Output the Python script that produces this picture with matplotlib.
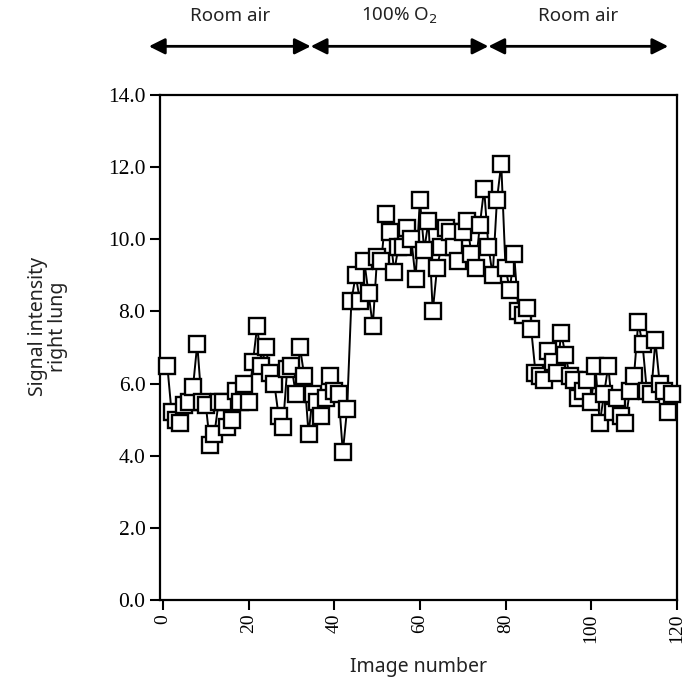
import numpy as np
import matplotlib
matplotlib.use('Agg')
import matplotlib.pyplot as plt

# signal intensity per image
signal = [6.5, 5.2, 5.0, 4.9, 5.4, 5.5, 5.9, 7.1, 5.5, 5.4,
          4.3, 4.6, 5.5, 5.5, 4.8, 5.0, 5.8, 5.5, 6.0, 5.5,
          6.6, 7.6, 6.5, 7.0, 6.3, 6.0, 5.1, 4.8, 6.4, 6.5,
          5.7, 7.0, 6.2, 4.6, 5.7, 5.5, 5.1, 5.6, 6.2, 5.8,
          5.7, 4.1, 5.3, 8.3, 9.0, 8.3, 9.4, 8.5, 7.6, 9.5,
          9.4, 10.7, 10.2, 9.1, 9.8, 9.8, 10.3, 10.0, 8.9,
          11.1, 9.7, 10.5, 8.0, 9.2, 9.8, 10.3, 10.2, 9.8, 9.4,
          10.2, 10.5, 9.6, 9.2, 10.4, 11.4, 9.8, 9.0, 11.1, 12.1,
          9.2, 8.6, 9.6, 8.0, 7.9, 8.1, 7.5, 6.3, 6.2, 6.1,
          6.9, 6.6, 6.3, 7.4, 6.8, 6.2, 6.1, 5.6, 5.8, 6.1,
          5.5, 6.5, 4.9, 5.7, 6.5, 5.2, 5.6, 5.1, 4.9, 5.8,
          6.2, 7.7, 7.1, 5.8, 5.7, 7.2, 6.0, 5.8, 5.2, 5.7]
image_no = np.arange(1, len(signal) + 1)

# phases shown above the plot: (label, start, end)
phases = [('Room air', -3.3, 34.5), ('100% O$_2$', 34.5, 76.0), ('Room air', 76.0, 118.0)]

xticks = [0, 20, 40, 60, 80, 100, 120]
yticks = [0, 2, 4, 6, 8, 10, 12, 14]

sans = 'Noto Sans'
serif = 'Liberation Serif'

fig = plt.figure(figsize=(6.85, 6.86), dpi=100)
ax = fig.add_axes([0.2336, 0.1254, 0.988 - 0.2336, 0.8615 - 0.1254])

ax.plot(image_no, signal, '-', color='black', lw=1.4, zorder=2)
ax.plot(image_no, signal, 's', ms=11.5, mfc='white', mec='black', mew=1.7, zorder=3,
        clip_on=False)

ax.set_xlim(-0.7, 120)
ax.set_ylim(0, 14)
ax.set_xticks(xticks)
ax.set_xticklabels([str(t) for t in xticks], rotation=90, fontfamily=serif, fontsize=14)
ax.set_yticks(yticks)
ax.set_yticklabels(['%.1f' % t for t in yticks], fontfamily=serif, fontsize=15.5)
ax.tick_params(direction='out', length=7, width=1.5, color='black')
ax.tick_params(axis='x', pad=3)
for s in ax.spines.values():
    s.set_linewidth(1.6)

ax.set_xlabel('Image number', fontfamily=sans, fontsize=14, labelpad=10, color='#222222')
fig.text(48 / 685, 1 - 327 / 686, 'Signal intensity\nright lung', rotation=90,
         ha='center', va='center', fontfamily=sans, fontsize=14, color='#222222',
         linespacing=1.05, multialignment='center')

# arrows for the gas phases
for label, a, b in phases:
    ax.annotate('', xy=(a, 15.35), xytext=(b, 15.35), xycoords='data',
                annotation_clip=False,
                arrowprops=dict(arrowstyle='<|-|>', color='black', lw=2,
                                mutation_scale=24, shrinkA=0, shrinkB=0))
    ax.text((a + b) / 2, 16.2, label, ha='center', va='center', fontfamily=sans,
            fontsize=13.5, color='#222222', clip_on=False)

fig.savefig('out.png', dpi=100)
